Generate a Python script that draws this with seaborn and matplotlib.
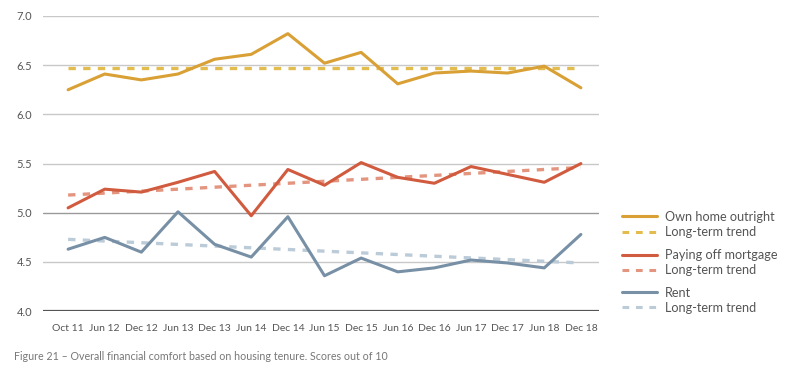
import matplotlib
matplotlib.use("Agg")
import matplotlib.pyplot as plt
from matplotlib.lines import Line2D
import seaborn as sns
import pandas as pd

# data
periods = ["Oct 11", "Jun 12", "Dec 12", "Jun 13", "Dec 13", "Jun 14", "Dec 14", "Jun 15",
           "Dec 15", "Jun 16", "Dec 16", "Jun 17", "Dec 17", "Jun 18", "Dec 18"]
own_home = [6.25, 6.41, 6.35, 6.41, 6.56, 6.61, 6.82, 6.52, 6.63, 6.31, 6.42, 6.44, 6.42, 6.49, 6.27]
mortgage = [5.05, 5.24, 5.21, 5.31, 5.42, 4.97, 5.44, 5.28, 5.51, 5.36, 5.30, 5.47, 5.39, 5.31, 5.50]
rent = [4.63, 4.75, 4.60, 5.01, 4.68, 4.55, 4.96, 4.36, 4.54, 4.40, 4.44, 4.52, 4.49, 4.44, 4.78]
# long-term trend lines: value at first and last period
own_trend = [6.47, 6.47]
mortgage_trend = [5.18, 5.46]
rent_trend = [4.73, 4.49]

sns.set_theme(style="white")
plt.rcParams["font.family"] = ["Lato", "DejaVu Sans"]

colors = {
    "own": "#D9A035", "own_t": "#E3BC4E",
    "mort": "#D15B3F", "mort_t": "#E39580",
    "rent": "#7890A5", "rent_t": "#BCCBD8",
}

fig = plt.figure(figsize=(8, 3.89), dpi=100)
ax = fig.add_axes([0.054, 0.2, 0.695, 0.759])

idx = list(range(len(periods)))
ends = [idx[0], idx[-1]]

series = [
    (own_home, own_trend, "own", "own_t"),
    (mortgage, mortgage_trend, "mort", "mort_t"),
    (rent, rent_trend, "rent", "rent_t"),
]

# grid lines first so lines sit on top
for v in [4.5, 5.5, 6.0, 6.5, 7.0]:
    ax.axhline(v, color="#C8C8C8", lw=1.0, zorder=0)
ax.axhline(5.0, color="#9A9A9A", lw=1.0, zorder=0)
ax.axhline(4.0, color="#555555", lw=1.6, zorder=0)

for vals, trend, c, ct in series:
    df = pd.DataFrame({"x": idx, "y": vals})
    sns.lineplot(data=df, x="x", y="y", ax=ax, color=colors[c], lw=2.2, zorder=3)
    dt = pd.DataFrame({"x": ends, "y": trend})
    sns.lineplot(data=dt, x="x", y="y", ax=ax, color=colors[ct], lw=2.4,
                 dashes=False, zorder=2).lines[-1].set_dashes([2.2, 2.2])

ax.set_xlim(-0.68, len(periods) - 1 + 0.5)
ax.set_ylim(4.0, 7.0)
ax.set_yticks([4.0, 4.5, 5.0, 5.5, 6.0, 6.5, 7.0])
ax.set_yticklabels([f"{v:.1f}" for v in [4.0, 4.5, 5.0, 5.5, 6.0, 6.5, 7.0]])
ax.set_xticks(idx)
ax.set_xticklabels(periods)
ax.tick_params(axis="both", length=0, labelsize=8, colors="#555555")
ax.tick_params(axis="x", pad=9, labelsize=7.5)
ax.tick_params(axis="y", pad=8)
ax.set_xlabel("")
ax.set_ylabel("")
for s in ax.spines.values():
    s.set_visible(False)

# legend in three groups
groups = [
    ("Own home outright", "own", "own_t", 0.458),
    ("Paying off mortgage", "mort", "mort_t", 0.360),
    ("Rent", "rent", "rent_t", 0.263),
]
for label, c, ct, y in groups:
    handles = [Line2D([], [], color=colors[c], lw=2.2),
               Line2D([], [], color=colors[ct], lw=2.2, dashes=[2.2, 2.2])]
    leg = fig.legend(handles, [label, "Long-term trend"], loc="upper left",
                     bbox_to_anchor=(0.778, y), frameon=False, fontsize=9.1,
                     handlelength=2.7, handletextpad=0.7, labelspacing=0.25,
                     borderaxespad=0, borderpad=0)
    for t in leg.get_texts():
        t.set_color("#555555")

fig.text(0.018, 0.075, "Figure 21 \u2013 Overall financial comfort based on housing tenure. Scores out of 10",
         fontsize=7.7, color="#777777")

fig.savefig("out.png", dpi=100, facecolor="white")
